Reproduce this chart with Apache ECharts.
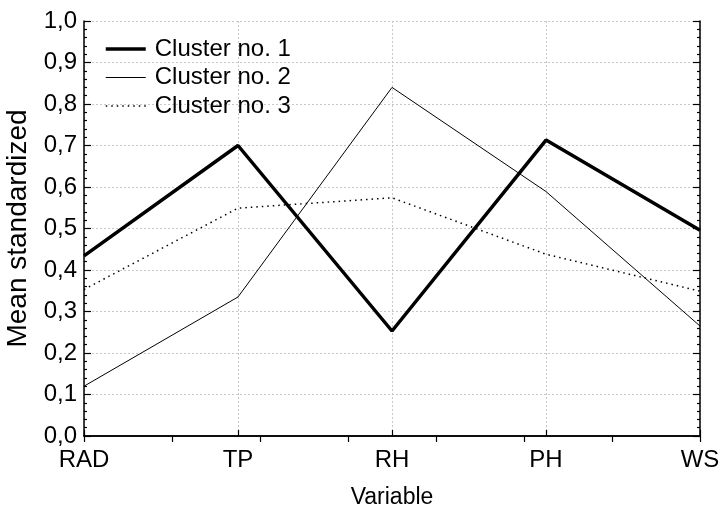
<!DOCTYPE html>
<html>
<head>
<meta charset="utf-8">
<script src="https://cdn.jsdelivr.net/npm/echarts@6/dist/echarts.min.js"></script>
<style>html,body{margin:0;padding:0;background:#fff}#c{width:723px;height:506px}</style>
</head>
<body>
<div id="c"></div>
<script>
const categories = ['RAD', 'TP', 'RH', 'PH', 'WS'];
const cluster1 = [0.434, 0.700, 0.253, 0.713, 0.496];
const cluster2 = [0.120, 0.335, 0.840, 0.589, 0.265];
const cluster3 = [0.353, 0.549, 0.574, 0.438, 0.349];
const seriesNames = ['Cluster no. 1', 'Cluster no. 2', 'Cluster no. 3'];

const FONT = 'Liberation Sans, Arial, sans-serif';
const chart = echarts.init(document.getElementById('c'), null, {renderer: 'canvas'});
const axisLine = {show: true, lineStyle: {color: '#000', width: 1.5}};
const grid = {left: 84, right: 23, top: 21, bottom: 70, containLabel: false, outerBoundsMode: 'none'};
const fmt = v => v.toFixed(1).replace('.', ',');
const styles = [
  {color: '#000', width: 3.5, type: 'solid'},
  {color: '#000', width: 1, type: 'solid'},
  {color: '#000', width: 1.5, type: [1.5, 4]}
];

chart.setOption({
  backgroundColor: '#fff',
  animation: false,
  grid: grid,
  legend: {
    orient: 'vertical',
    left: 104,
    top: 37,
    padding: 0,
    itemWidth: 40,
    itemHeight: 14,
    itemGap: 4.5,
    itemStyle: {opacity: 0},
    textStyle: {fontFamily: FONT, fontSize: 24, color: '#000', padding: [0, 0, 0, 4]},
    data: seriesNames.map((n, i) => ({name: n, lineStyle: styles[i], itemStyle: {opacity: 0}}))
  },
  xAxis: [
    {
      type: 'category',
      data: categories,
      boundaryGap: false,
      position: 'bottom',
      axisLine: axisLine,
      axisTick: {show: true, inside: true, length: 6, lineStyle: {color: '#000', width: 1.2}},
      axisLabel: {fontFamily: FONT, fontSize: 24, color: '#000', margin: 12},
      splitLine: {show: true, lineStyle: {color: '#c8c8c8', type: [2, 2], width: 1}},
      name: 'Variable',
      nameLocation: 'middle',
      nameGap: 50,
      nameTextStyle: {fontFamily: FONT, fontSize: 23, color: '#000'}
    },
    {
      type: 'value',
      position: 'top',
      min: 0, max: 7, interval: 1,
      axisLine: axisLine,
      axisTick: {show: true, inside: true, length: 6, lineStyle: {color: '#000', width: 1.2}},
      axisLabel: {show: false},
      splitLine: {show: false}
    }
  ],
  yAxis: [
    {
      type: 'value',
      min: 0, max: 1, interval: 0.1,
      position: 'left',
      axisLine: axisLine,
      axisTick: {show: true, inside: true, length: 7, lineStyle: {color: '#000', width: 1.2}},
      minorTick: {show: true, splitNumber: 5, length: 3, lineStyle: {color: '#000', width: 1.2}},
      axisLabel: {fontFamily: FONT, fontSize: 24, color: '#000', margin: 7, formatter: fmt},
      splitLine: {show: true, lineStyle: {color: '#c8c8c8', type: [2, 2], width: 1}},
      name: 'Mean standardized',
      nameLocation: 'middle',
      nameGap: 52,
      nameTextStyle: {fontFamily: FONT, fontSize: 28, color: '#000'}
    },
    {
      type: 'value',
      min: 0, max: 1, interval: 0.1,
      position: 'right',
      axisLine: axisLine,
      axisTick: {show: true, inside: true, length: 7, lineStyle: {color: '#000', width: 1.2}},
      minorTick: {show: true, splitNumber: 5, length: 3, lineStyle: {color: '#000', width: 1.2}},
      axisLabel: {show: false},
      splitLine: {show: false}
    }
  ],
  series: seriesNames.map((n, i) => ({
    name: n, type: 'line', data: [cluster1, cluster2, cluster3][i], symbol: 'none',
    lineStyle: styles[i], itemStyle: {color: '#000'}
  }))
});
</script>
</body>
</html>
